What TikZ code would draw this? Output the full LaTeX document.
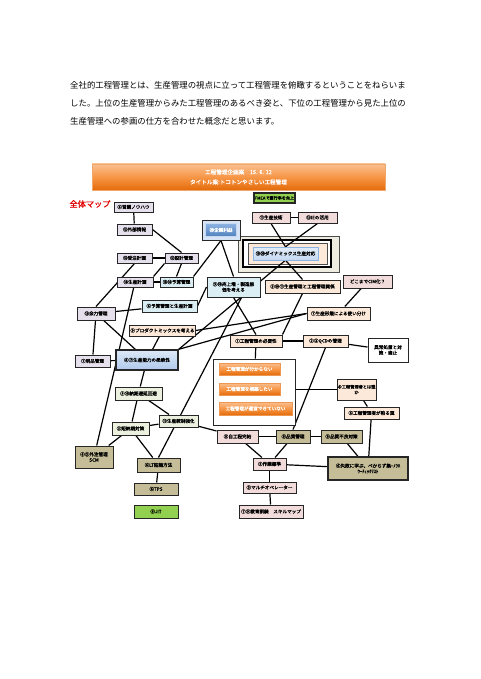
\documentclass[tikz,border=0pt]{standalone}
\usepackage{fontspec}
\newfontfamily\jp{Noto Sans CJK JP}
\newfontfamily\jpb{Noto Sans CJK JP}[FakeBold=1]
\usetikzlibrary{shadows,backgrounds,calc}
\definecolor{lav}{HTML}{E6E0EC}
\definecolor{lblue}{HTML}{DBEEF4}
\definecolor{peach}{HTML}{FDE9D9}
\definecolor{pinkc}{HTML}{F2DCDB}
\definecolor{cream}{HTML}{EBF1DE}
\definecolor{khaki}{HTML}{C4BD97}
\definecolor{greenc}{HTML}{92D050}
\definecolor{blueA}{HTML}{C6D9F1}
\definecolor{blueB}{HTML}{8DB3E2}
\definecolor{blueD}{HTML}{4F81BD}
\definecolor{orA}{HTML}{FAC090}
\definecolor{orB}{HTML}{F79646}
\definecolor{orC}{HTML}{E46C0A}
\definecolor{beigeF}{HTML}{EEECE1}
\definecolor{redT}{HTML}{E00000}
\tikzset{
  bx/.style={draw=black!85, line width=1pt, inner sep=0.5pt, align=center,
    font=\jpb\fontsize{4.6}{5.6}\selectfont,
    drop shadow={shadow xshift=0.9pt, shadow yshift=-0.9pt, opacity=0.35}},
  lavb/.style={bx, fill=lav},
  blb/.style={bx, fill=lblue},
  peb/.style={bx, fill=peach},
  pkb/.style={bx, fill=pinkc},
  crb/.style={bx, fill=cream},
  khb/.style={bx, fill=khaki},
  grb/.style={bx, fill=greenc},
  orb/.style={inner sep=0pt, top color=orA, bottom color=orC, middle color=orB,
    draw=orC!70!white, line width=0.3pt, text=white,
    font=\jpb\fontsize{4.6}{5.6}\selectfont},
  ed/.style={line width=1.2pt, black},
  para/.style={anchor=west, inner sep=0pt, font=\jp\fontsize{8.4}{10}\selectfont}
}
\begin{document}
\begin{tikzpicture}[x=1pt,y=-1pt]
\useasboundingbox (0,0) rectangle (480,679);
% paragraph
\node[para] (p1) at (70,85) {全社的工程管理とは、生産管理の視点に立って工程管理を俯瞰するということをねらいま};
\node[para] (p2) at (70,103) {した。上位の生産管理からみた工程管理のあるべき姿と、下位の工程管理から見た上位の};
\node[para] (p3) at (70,121) {生産管理への参画の仕方を合わせた概念だと思います。};
% header
\node[minimum width=293pt, minimum height=26pt, top color=orA, bottom color=orC, middle color=orB,
  draw=orC!60!white, line width=0.4pt, text=white, align=center, inner sep=0pt,
  font=\jpb\fontsize{5.6}{10}\selectfont,
  drop shadow={shadow xshift=1pt, shadow yshift=-1pt, opacity=0.3}] (head) at (238.5,177)
  {工程管理企画案　15. 6. 12\\タイトル案:トコトンやさしい工程管理};
\node[text=redT, font=\jpb\fontsize{8.2}{9}\selectfont, inner sep=0pt] (map) at (90,204) {全体マップ};

% left column
\node[lavb, minimum width=39pt, minimum height=10pt] (eigyo) at (133.5,207) {⑥営業ノウハウ};
\node[lavb, minimum width=35pt, minimum height=11pt] (gaibu) at (134.5,229.5) {⑮外部情報};
\node[lavb, minimum width=35pt, minimum height=10pt] (juchu) at (134.5,258) {⑬受注計画};
\node[lavb, minimum width=33pt, minimum height=10pt] (sekkei) at (181.5,258) {⑫設計管理};
\node[lavb, minimum width=36pt, minimum height=10pt] (skeikaku) at (135,282) {⑭生産計画};
\node[blb, minimum width=33pt, minimum height=10pt] (yosan) at (176.5,282) {⑬⑭予算管理};
\node[blb, minimum width=55pt, minimum height=12pt] (ykeikaku) at (169.5,306) {⑥予算管理と生産計画};
\node[lavb, minimum width=38pt, minimum height=13pt] (yoryoku) at (96,313.5) {⑮余力管理};
\node[peb, minimum width=65pt, minimum height=11pt] (product) at (162.5,330.5) {⑨プロダクトミックスを考える};
\node[lavb, minimum width=35pt, minimum height=12pt] (genpin) at (92.5,361) {⑦現品管理};
\node[bx, line width=1.4pt, top color=blueA!60!white, bottom color=blueB!70!white,
  minimum width=62pt, minimum height=20pt] (noryoku) at (147,360) {⑧⑦生産能力の柔軟性};
\node[crb, minimum width=47pt, minimum height=13pt] (nouki) at (138.5,393.5) {⑨⑩納期遅延回避};
\node[crb, minimum width=39pt, minimum height=12pt] (tousei) at (178.5,421) {⑪生産統制強化};
\node[crb, minimum width=37pt, minimum height=13pt] (tannouki) at (130.5,428.5) {⑤短納期対策};
\node[khb, minimum width=38pt, minimum height=22pt] (gaichu) at (94,457) {⑥⑤外注管理\\SCM};
\node[khb, minimum width=43pt, minimum height=14pt] (lt) at (158.5,465) {⑥LT短縮方法};
\node[khb, minimum width=44pt, minimum height=12pt] (tps) at (156,489) {⑥TPS};
\node[grb, minimum width=44pt, minimum height=13pt] (jit) at (156,511.5) {⑥JIT};

% centre / right
\node[bx, fill=blueA!70!white, minimum width=38pt, minimum height=20pt] (kigyo) at (221,230) {};
\node[inner sep=0pt, top color=blueB, bottom color=blueD, draw=blueA, line width=0.6pt,
  minimum width=31pt, minimum height=13pt, text=white, font=\jpb\fontsize{4.6}{5.6}\selectfont] (kigyoin) at (221,230) {⑳企業利益};
\node[grb, line width=1.1pt, minimum width=41pt, minimum height=10pt, font=\jpb\fontsize{4.1}{5}\selectfont] (fmea) at (274.5,198) {FMEAで直行率を向上};
\node[pkb, minimum width=38pt, minimum height=11pt] (gijutsu) at (271,217.5) {⑪生産技術};
\node[pkb, minimum width=39pt, minimum height=11pt] (ie) at (317.5,217.5) {⑮IEの活用};
\node[blb, minimum width=53pt, minimum height=20pt] (uriage) at (233.5,287) {⑨⑩売上増・製造原\\価を考える};
\node[peb, minimum width=75pt, minimum height=13pt] (kankei) at (302.5,286.5) {⑤⑩⑪生産管理と工程管理関係};
\node[pkb, minimum width=49pt, minimum height=13pt] (cim) at (367.5,281.5) {どこまでCIM化？};
\node[peb, minimum width=63pt, minimum height=13pt] (tsukai) at (338.5,313.5) {⑦生産形態による使い分け};
\node[peb, minimum width=52pt, minimum height=12pt] (hitsuyo) at (256,341) {①工程管理の必要性};
\node[peb, minimum width=45pt, minimum height=12pt] (qcd) at (325.5,341) {②③QCDの管理};
\node[bx, fill=white, minimum width=40pt, minimum height=24pt] (ijo) at (388,350) {異常処置と対\\策・歯止};
\node[draw=black!85, line width=1pt, fill=white, minimum width=82pt, minimum height=66pt, inner sep=0pt] (frame) at (254,392) {};
\node[orb, minimum width=61pt, minimum height=12pt] (o1) at (249.5,369) {工程管理が分からない};
\node[orb, minimum width=61pt, minimum height=12pt] (o2) at (249.5,389) {工程管理を構築したい};
\node[orb, minimum width=73pt, minimum height=13pt] (o3) at (255.5,408.5) {工程管理が運営できていない};
\node[peb, minimum width=39pt, minimum height=21pt, font=\jpb\fontsize{4.2}{5.6}\selectfont] (dare) at (356.5,389.5) {④工程管理者とは誰\\か};
\node[peb, minimum width=55pt, minimum height=12pt] (wana) at (371.5,413) {⑤工程管理者が陥る罠};
\node[pkb, minimum width=41pt, minimum height=13pt] (jikotei) at (237.5,436.5) {⑧自工程完結};
\node[khb, minimum width=34pt, minimum height=13pt] (hinshitsu) at (293,436.5) {⑧品質管理};
\node[khb, minimum width=41pt, minimum height=13pt] (furyo) at (341.5,436.5) {⑧品質不良対策};
\node[pkb, minimum width=33pt, minimum height=12pt] (sagyo) at (269.5,464) {②作業標準};
\node[khb, line width=1.4pt, minimum width=80pt, minimum height=23pt] (shippai) at (368,468.5) {⑥失敗に学ぶ、べからず集ｰﾉｳﾊ\\ｳｰﾁｪｯｸﾘｽﾄ};
\node[pkb, minimum width=53pt, minimum height=11pt] (multi) at (269.5,487.5) {③マルチオペレーター};
\node[pkb, minimum width=64pt, minimum height=13pt] (kyoiku) at (271,511.5) {⑦⑨教育訓練　スキルマップ};
\node[inner sep=0pt, top color=blueA!50!white, bottom color=blueA, draw=blueB, line width=0.5pt,
  minimum width=65pt, minimum height=13pt, font=\jpb\fontsize{4.6}{5.6}\selectfont] (dyn) at (285.5,253.5) {⑲⑳ダイナミックス生産対応};

\begin{scope}[on background layer]
  \draw[fill=beigeF, draw=black!70, line width=0.7pt] (238,236) rectangle (339,272);
  \draw[fill=white, draw=black, line width=1.8pt] (243,240) rectangle (331,267);
  \draw[fill=peach, draw=black!70, line width=0.6pt] (248,243) rectangle (327,264);
  \draw[ed] (eigyo) -- (gaibu);
  \draw[ed] (gaibu.east) -- (sekkei.north);
  \draw[ed] (juchu) -- (sekkei);
  \draw[ed] (juchu.south) -- (yoryoku.north);
  \draw[ed] (sekkei.south west) -- (skeikaku.north east);
  \draw[ed] (sekkei.south) -- (yosan.north);
  \draw[ed] (skeikaku) -- (yosan);
  \draw[ed] (skeikaku) -- (gaichu);
  \draw[ed] (kigyo.south) -- (yosan.north east);
  \draw[ed] (kigyo.south) -- (uriage.north);
  \draw[ed] (gijutsu) -- (ie);
  \draw[ed] (gijutsu.south) -- (dyn.north);
  \draw[ed] (ie.south) -- (dyn.north);
  \draw[ed] (dyn.south) -- (kankei.north);
  \draw[ed] (dyn.south) -- (noryoku.north east);
  \draw[ed] (cim) -- (tsukai);
  \draw[ed] (yoryoku) -- (ykeikaku);
  \draw[ed] (yoryoku) -- (genpin);
  \draw[ed] (yoryoku) -- (noryoku);
  \draw[ed] (genpin) -- (noryoku);
  \draw[ed] (ykeikaku.east) -- (uriage.west);
  \draw[ed] (product) -- (noryoku);
  \draw[ed] (product.east) -- (tsukai.west);
  \draw[ed] (tsukai.west) -- (noryoku.north east);
  \draw[ed] (uriage.south) -- (hitsuyo.north);
  \draw[ed] (kankei.south) -- (hitsuyo.north east);
  \draw[ed] (hitsuyo) -- (qcd);
  \draw[ed] (hitsuyo) -- (frame);
  \draw[ed] (qcd) -- (ijo);
  \draw[ed] (qcd.south) -- (hinshitsu.north);
  \draw[ed] (frame.east |- dare.west) -- (dare.west);
  \draw[ed] (dare) -- (wana);
  \draw[ed] (wana) -- (shippai);
  \draw[ed] (furyo) -- (shippai);
  \draw[ed] (jikotei) -- (hinshitsu);
  \draw[ed] (hinshitsu) -- (furyo);
  \draw[ed] (jikotei) -- (sagyo);
  \draw[ed] (hinshitsu) -- (sagyo);
  \draw[ed] (sagyo) -- (shippai);
  \draw[ed] (sagyo) -- (multi);
  \draw[ed] (multi) -- (kyoiku);
  \draw[ed] (jikotei) -- (tousei);
  \draw[ed] (nouki) -- (tousei);
  \draw[ed] (nouki) -- (tannouki);
  \draw[ed] (tousei) -- (tannouki);
  \draw[ed] (noryoku) -- (nouki);
  \draw[ed] (tannouki) -- (gaichu);
  \draw[ed] (tannouki) -- (lt);
  \draw[ed] (lt) -- (tps);
  \draw[ed] (lt.north) -- ($(uriage.south)+(8,0)$);
\end{scope}
\end{tikzpicture}
\end{document}
